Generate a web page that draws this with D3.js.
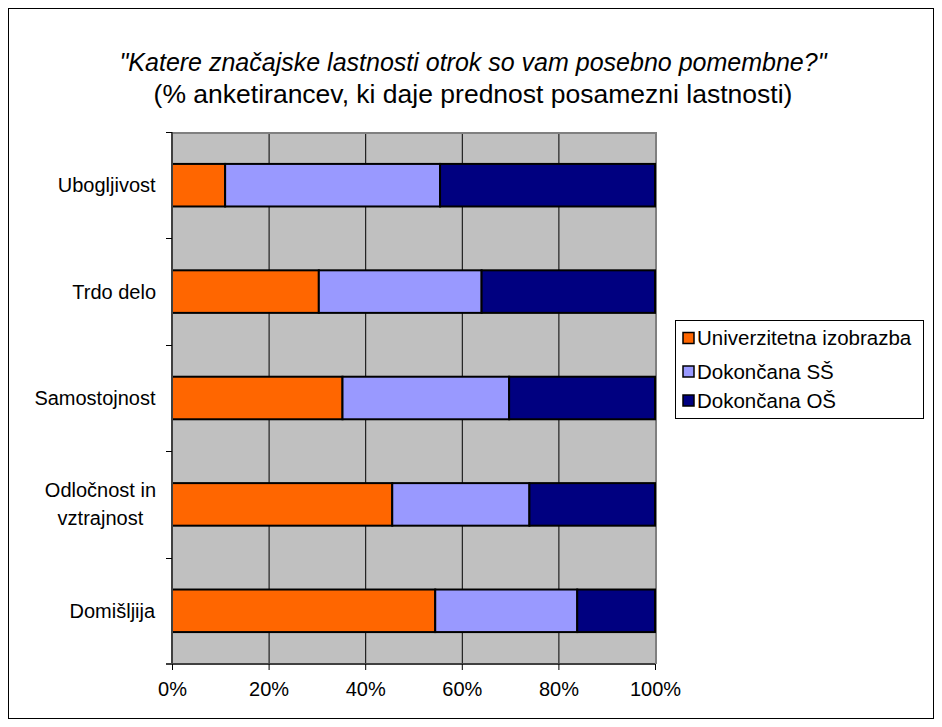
<!DOCTYPE html>
<html>
<head>
<meta charset="utf-8">
<script src="https://cdn.jsdelivr.net/npm/d3@7"></script>
<style>
  html, body { margin: 0; padding: 0; background: #fff; }
  text { font-family: "Liberation Sans", Arial, sans-serif; fill: #000; }
</style>
</head>
<body>
<svg id="chart" width="942" height="727"></svg>
<script>
// Survey answers by education level (share of respondents, %)
const categories = ["Ubogljivost", "Trdo delo", "Samostojnost", "Odločnost in vztrajnost", "Domišljija"];
const categoryLines = [["Ubogljivost"], ["Trdo delo"], ["Samostojnost"], ["Odločnost in", "vztrajnost"], ["Domišljija"]];
const seriesNames = ["Univerzitetna izobrazba", "Dokončana SŠ", "Dokončana OŠ"];
const univerzitetna = [11.0, 30.4, 35.3, 45.6, 54.5];
const srednja = [44.5, 33.7, 34.5, 28.4, 29.4];
const osnovna = [44.5, 35.9, 30.2, 26.0, 16.1];
const xTicks = [0, 20, 40, 60, 80, 100];
const colors = ["#FF6600", "#9999FF", "#000080"];

const svg = d3.select("#chart");

// outer chart frame
svg.append("rect")
  .attr("x", 8.5).attr("y", 8.5).attr("width", 925).attr("height", 710)
  .attr("fill", "#fff").attr("stroke", "#000").attr("stroke-width", 1);

// titles
svg.append("text")
  .attr("x", 473).attr("y", 71)
  .attr("text-anchor", "middle")
  .style("font-size", "25px").style("font-style", "italic")
  .text("\"Katere značajske lastnosti otrok so vam posebno pomembne?\"");
svg.append("text")
  .attr("x", 473).attr("y", 103)
  .attr("text-anchor", "middle")
  .style("font-size", "26.5px")
  .text("(% anketirancev, ki daje prednost posamezni lastnosti)");

const plot = { left: 172, right: 655, top: 132, bottom: 664 };

const x = d3.scaleLinear().domain([0, 100]).range([plot.left, plot.right]);
const y = d3.scaleBand().domain(categories).range([plot.top, plot.bottom])
  .paddingInner(0.6).paddingOuter(0.3);
const band = d3.scaleBand().domain(categories).range([plot.top, plot.bottom]);

// plot background
svg.append("rect")
  .attr("x", plot.left).attr("y", plot.top)
  .attr("width", plot.right - plot.left).attr("height", plot.bottom - plot.top)
  .attr("fill", "#C0C0C0");

// vertical gridlines
svg.append("g").selectAll("line")
  .data(xTicks.filter(t => t > 0 && t < 100))
  .join("line")
  .attr("x1", d => x(d) + 0.5).attr("x2", d => x(d) + 0.5)
  .attr("y1", plot.top).attr("y2", plot.bottom)
  .attr("stroke", "#000").attr("stroke-width", 1);

// plot border (top/right)
svg.append("path")
  .attr("d", `M${plot.left},${plot.top + 1}H${plot.right + 1}V${plot.bottom}`)
  .attr("fill", "none").attr("stroke", "#808080").attr("stroke-width", 2);

// stacked bars
const stackData = categories.map((c, i) => ({
  cat: c, v: [univerzitetna[i], srednja[i], osnovna[i]]
}));
const stack = d3.stack().keys([0, 1, 2]).value((d, k) => d.v[k]);
const layers = stack(stackData);

svg.append("g").selectAll("g")
  .data(layers)
  .join("g")
  .attr("fill", (d, i) => colors[i])
  .selectAll("rect")
  .data(d => d)
  .join("rect")
  .attr("x", d => x(d[0]))
  .attr("y", d => y(d.data.cat))
  .attr("width", d => x(Math.min(d[1], 100)) - x(d[0]))
  .attr("height", y.bandwidth())
  .attr("stroke", "#000").attr("stroke-width", 2);

// category axis
const yAxis = svg.append("g");
yAxis.append("line")
  .attr("x1", plot.left).attr("x2", plot.left)
  .attr("y1", plot.top).attr("y2", plot.bottom)
  .attr("stroke", "#404040").attr("stroke-width", 2);
const boundaries = categories.map(c => band(c)).concat([plot.bottom]);
yAxis.selectAll("line.tick")
  .data(boundaries)
  .join("line").attr("class", "tick")
  .attr("x1", plot.left - 6).attr("x2", plot.left)
  .attr("y1", d => Math.round(d) + 0.5).attr("y2", d => Math.round(d) + 0.5)
  .attr("stroke", "#000").attr("stroke-width", 1);

const labelX = 98;
categories.forEach((c, i) => {
  const lines = categoryLines[i];
  const cy = band(c) + band.bandwidth() / 2;
  const lh = 28;
  const t = yAxis.append("text")
    .attr("text-anchor", "middle")
    .style("font-size", "20px");
  lines.forEach((ln, j) => {
    t.append("tspan")
      .attr("x", labelX)
      .attr("y", cy + (j - (lines.length - 1) / 2) * lh)
      .attr("dy", "0.35em")
      .text(ln);
  });
  // right-align the whole label block against the axis
  const bb = t.node().getBBox();
  t.selectAll("tspan").attr("x", labelX + (156 - (bb.x + bb.width)));
});

// value axis
const xAxis = svg.append("g")
  .attr("transform", `translate(0,${plot.bottom})`)
  .call(d3.axisBottom(x).tickValues(xTicks).tickFormat(d => d + "%").tickSize(6).tickPadding(12));
xAxis.select(".domain").attr("stroke", "#404040").attr("stroke-width", 2)
  .attr("d", `M${plot.left - 6},0H${plot.right}`);
xAxis.selectAll(".tick line").attr("stroke", "#000");
xAxis.selectAll(".tick text")
  .style("font-size", "20px")
  .style("font-family", "\"Liberation Sans\", Arial, sans-serif")
  .attr("fill", "#000");

// legend
const lg = svg.append("g").attr("transform", "translate(675,320)");
lg.append("rect")
  .attr("x", 0.5).attr("y", 0.5).attr("width", 248).attr("height", 98)
  .attr("fill", "#fff").attr("stroke", "#000").attr("stroke-width", 1);
const itemY = [18, 51.5, 80.5];
seriesNames.forEach((s, i) => {
  lg.append("rect")
    .attr("x", 8).attr("y", itemY[i] - 5.5).attr("width", 11).attr("height", 11)
    .attr("fill", colors[i]).attr("stroke", "#000").attr("stroke-width", 1.5);
  lg.append("text")
    .attr("x", 22).attr("y", itemY[i]).attr("dy", "0.35em")
    .style("font-size", "20.5px")
    .text(s);
});
</script>
</body>
</html>
